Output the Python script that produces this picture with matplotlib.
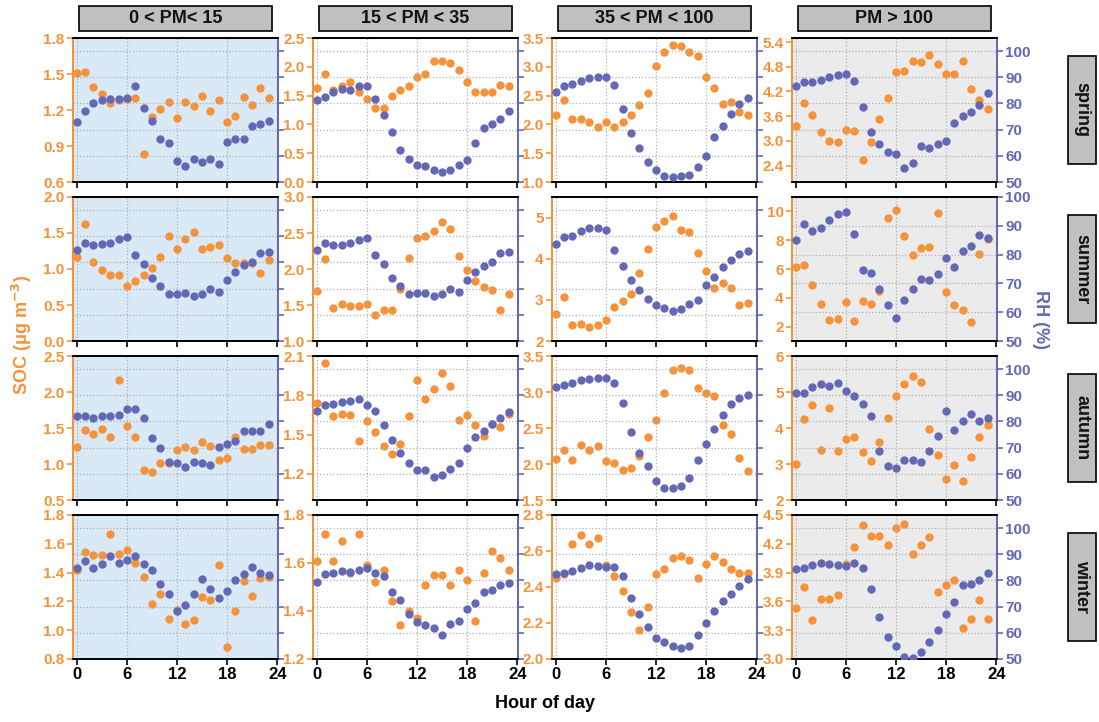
import matplotlib
matplotlib.use("Agg")
import matplotlib.pyplot as plt
from matplotlib.patches import Rectangle
import numpy as np

plt.rcParams['font.family'] = ['Liberation Sans', 'DejaVu Sans']
plt.rcParams['font.weight'] = 'bold'

hours = list(range(24))
pm_bins = ["0 < PM< 15", "15 < PM < 35", "35 < PM < 100", "PM > 100"]
seasons = ["spring", "summer", "autumn", "winter"]

soc_spring = [
    [1.51,1.52,1.39,1.33,1.26,1.28,1.29,1.30,0.83,1.14,1.21,1.27,1.13,1.27,1.23,1.32,1.19,1.28,1.10,1.15,1.31,1.24,1.38,1.30],
    [1.63,1.87,1.60,1.67,1.74,1.56,1.44,1.29,1.28,1.50,1.60,1.66,1.83,1.87,2.10,2.10,2.06,1.94,1.74,1.57,1.57,1.57,1.69,1.67],
    [2.17,2.43,2.09,2.10,2.04,1.96,2.05,1.95,2.05,2.16,2.33,2.55,3.01,3.26,3.37,3.36,3.26,3.18,2.83,2.63,2.36,2.39,2.22,2.17],
    [3.35,3.92,3.63,3.22,2.99,2.98,3.26,3.23,2.53,2.98,3.53,4.05,4.68,4.69,4.95,4.92,5.09,4.87,4.62,4.62,4.95,4.27,4.00,3.78],
]
rh_spring = [
    [73.0,77.3,80.2,81.2,81.8,81.6,82.0,86.7,78.3,73.4,66.4,65.0,58.1,56.3,58.8,57.7,58.6,56.9,65.2,66.4,66.5,71.3,72.1,73.4],
    [81.3,82.6,84.5,85.4,85.3,86.6,86.6,81.8,75.6,69.1,62.2,58.8,56.6,56.3,54.5,53.8,54.5,56.4,58.5,64.8,70.8,72.0,74.0,77.1],
    [84.3,86.5,87.4,88.4,89.8,90.2,90.0,87.1,77.8,68.9,63.0,57.8,54.7,52.4,51.8,52.3,52.7,55.7,59.8,67.3,71.3,75.8,79.8,82.2],
    [86.5,88.1,88.1,88.8,90.0,90.8,91.3,88.6,78.8,69.1,64.5,61.5,60.6,55.2,57.3,63.8,63.0,64.6,65.8,72.7,75.1,76.9,79.3,84.0],
]
soc_summer = [
    [1.17,1.62,1.10,0.99,0.91,0.92,0.76,0.83,0.92,1.01,1.16,1.46,1.28,1.41,1.52,1.28,1.31,1.33,1.15,1.09,1.08,1.08,0.95,1.13],
    [1.69,2.14,1.46,1.51,1.49,1.49,1.52,1.36,1.43,1.43,1.72,2.15,2.43,2.46,2.53,2.65,2.56,2.18,1.98,1.83,1.75,1.71,1.43,1.65],
    [2.65,3.08,2.38,2.42,2.35,2.40,2.50,2.82,2.98,3.15,3.66,4.23,4.77,4.91,5.04,4.70,4.65,4.14,3.70,3.29,3.40,3.29,2.87,2.92],
    [6.14,6.28,4.91,3.60,2.49,2.53,3.71,2.37,3.76,3.60,4.45,9.56,10.09,8.31,6.99,7.48,7.53,9.88,4.43,3.50,3.16,2.32,7.06,8.10],
]
rh_summer = [
    [84.9,87.3,86.8,86.9,87.5,88.8,89.6,82.7,79.3,74.0,71.1,68.1,68.1,68.2,67.0,67.8,69.7,68.9,73.3,76.5,78.9,80.2,83.7,84.0],
    [84.9,87.3,86.8,86.8,87.5,88.7,89.4,82.7,79.4,74.0,71.0,68.1,68.2,68.3,67.0,67.8,69.7,68.9,73.3,76.5,78.8,80.3,83.7,84.0],
    [86.9,89.6,90.2,92.0,93.0,93.3,92.5,84.9,78.8,73.3,69.5,66.2,63.7,62.5,61.5,62.2,64.0,65.8,71.4,74.3,78.1,80.9,83.3,84.5],
    [84.9,90.7,88.1,89.2,91.9,94.1,94.9,87.1,74.8,73.6,68.1,62.4,58.1,64.3,67.9,71.4,71.2,73.4,78.7,75.6,81.3,83.1,86.7,85.7],
]
soc_autumn = [
    [1.23,1.47,1.42,1.48,1.38,2.17,1.53,1.38,0.92,0.89,1.02,1.02,1.19,1.23,1.20,1.31,1.25,1.05,1.09,1.38,1.21,1.21,1.27,1.27],
    [1.74,2.05,1.64,1.66,1.65,1.45,1.60,1.52,1.41,1.35,1.43,1.64,1.92,1.77,1.85,1.97,1.87,1.61,1.65,1.57,1.49,1.58,1.56,1.66],
    [2.07,2.19,2.05,2.27,2.19,2.25,2.04,2.02,1.91,1.94,2.11,2.37,2.61,2.98,3.31,3.34,3.30,3.05,2.98,2.94,2.54,2.41,2.09,1.90],
    [2.99,4.24,4.64,3.40,4.55,3.35,3.70,3.76,3.33,3.08,3.62,4.27,4.89,5.23,5.45,5.28,3.97,3.25,2.58,2.97,2.53,3.20,3.76,4.09],
]
rh_autumn = [
    [81.9,81.9,81.3,82.0,82.2,82.4,84.9,84.6,81.3,73.7,70.0,64.6,64.1,62.7,64.5,64.2,63.5,70.1,71.3,72.6,76.4,76.4,76.4,79.0],
    [84.1,86.4,86.5,87.4,87.9,88.5,86.3,84.1,78.7,72.8,67.9,64.1,61.3,61.5,58.8,59.5,61.8,64.0,70.0,74.2,76.2,79.0,81.5,83.8],
    [93.1,94.0,94.5,95.9,96.3,96.5,96.7,94.6,87.2,76.0,67.9,62.8,57.4,54.5,54.5,55.3,58.5,65.4,71.3,77.2,82.6,86.5,89.1,90.1],
    [91.0,91.0,93.3,94.4,93.6,94.7,91.7,89.6,86.7,81.9,68.7,63.1,62.3,65.4,65.4,64.6,68.7,74.5,84.0,76.8,80.1,82.8,80.0,81.5],
]
soc_winter = [
    [1.42,1.54,1.52,1.52,1.67,1.53,1.56,1.47,1.37,1.18,1.25,1.08,1.14,1.04,1.07,1.23,1.21,1.45,0.88,1.13,1.34,1.24,1.36,1.37],
    [1.61,1.72,1.61,1.69,1.56,1.72,1.59,1.52,1.57,1.44,1.34,1.40,1.37,1.51,1.55,1.55,1.51,1.57,1.53,1.36,1.56,1.65,1.62,1.57],
    [2.45,2.47,2.64,2.69,2.64,2.67,2.52,2.46,2.38,2.26,2.16,2.29,2.47,2.50,2.56,2.57,2.55,2.45,2.53,2.57,2.54,2.50,2.48,2.48],
    [3.53,3.75,3.41,3.62,3.63,3.67,3.99,4.17,4.40,4.28,4.28,4.19,4.36,4.41,4.09,4.19,4.27,3.70,3.77,3.82,3.32,3.42,3.61,3.42],
]
rh_winter = [
    [84.9,87.6,84.7,86.2,89.5,86.5,87.8,89.2,86.4,84.1,78.8,74.9,68.2,70.7,74.7,80.5,76.9,73.2,76.0,80.1,82.3,85.1,82.8,82.1],
    [79.5,82.3,82.8,83.5,83.2,83.9,84.8,82.9,81.6,75.4,72.4,67.3,64.0,62.9,62.0,59.3,63.4,64.7,69.1,71.3,75.4,76.5,78.1,79.1],
    [82.4,82.9,83.8,84.7,85.8,85.7,85.3,85.1,81.8,73.3,67.3,62.1,58.2,56.6,54.8,54.1,55.0,59.2,63.8,68.4,72.1,74.7,77.9,80.6],
    [84.4,84.9,86.0,86.6,86.4,85.8,85.6,86.6,84.6,76.7,66.2,58.5,54.8,50.9,50.4,52.7,56.6,61.2,67.3,71.7,78.1,78.8,80.2,82.9],
]

soc_all = [soc_spring, soc_summer, soc_autumn, soc_winter]
rh_all = [rh_spring, rh_summer, rh_autumn, rh_winter]

# SOC axis limits and ticks per panel
soc_lims = [
    [(0.6, 1.8), (0.0, 2.5), (1.0, 3.5), (2.0, 5.5)],
    [(0.0, 2.0), (1.0, 3.0), (2.0, 5.5), (1.0, 11.0)],
    [(0.5, 2.5), (1.0, 2.1), (1.5, 3.5), (2.0, 6.0)],
    [(0.8, 1.8), (1.2, 1.8), (2.0, 2.8), (3.0, 4.5)],
]
soc_ticks = [
    [[0.6, 0.9, 1.2, 1.5, 1.8], [0.0, 0.5, 1.0, 1.5, 2.0, 2.5], [1.0, 1.5, 2.0, 2.5, 3.0, 3.5], [2.4, 3.0, 3.6, 4.2, 4.8, 5.4]],
    [[0.0, 0.5, 1.0, 1.5, 2.0], [1.0, 1.5, 2.0, 2.5, 3.0], [2, 3, 4, 5], [2, 4, 6, 8, 10]],
    [[0.5, 1.0, 1.5, 2.0, 2.5], [1.2, 1.5, 1.8, 2.1], [1.5, 2.0, 2.5, 3.0, 3.5], [2, 3, 4, 5, 6]],
    [[0.8, 1.0, 1.2, 1.4, 1.6, 1.8], [1.2, 1.4, 1.6, 1.8], [2.0, 2.2, 2.4, 2.6, 2.8], [3.0, 3.3, 3.6, 3.9, 4.2, 4.5]],
]
soc_fmt = [
    ["{:.1f}", "{:.1f}", "{:.1f}", "{:.1f}"],
    ["{:.1f}", "{:.1f}", "{:.0f}", "{:.0f}"],
    ["{:.1f}", "{:.1f}", "{:.1f}", "{:.0f}"],
    ["{:.1f}", "{:.1f}", "{:.1f}", "{:.1f}"],
]
rh_ticks = [50, 60, 70, 80, 90, 100]
xticks = [0, 6, 12, 18, 24]

ORANGE = "#F5923A"
BLUE = "#6268B4"
BG = ["#DAE9F6", "white", "white", "#EBEBEB"]

W, H = 1099, 722
fig = plt.figure(figsize=(W / 100, H / 100), dpi=100)

lefts = [73, 313, 552, 792]
tops = [38, 197, 356, 515]
pw, ph = 205, 144

for r in range(4):
    for c in range(4):
        ax = fig.add_axes([lefts[c] / W, 1 - (tops[r] + ph) / H, pw / W, ph / H])
        ax.set_facecolor(BG[c])
        ax2 = ax.twinx()
        ax.plot(hours, soc_all[r][c], 'o', color=ORANGE, ms=6, mec='none', zorder=3)
        ax2.plot(hours, rh_all[r][c], 'o', color=BLUE, ms=6, mec='none', zorder=3)
        ax.set_xlim(-0.45, 24.1)
        ax.set_xticks(xticks)
        ax.set_ylim(*soc_lims[r][c])
        ax.set_yticks(soc_ticks[r][c])
        ax.set_yticklabels([soc_fmt[r][c].format(v) for v in soc_ticks[r][c]])
        if r == 1 and c == 3:
            ax2.set_ylim(50, 100)
        else:
            ax2.set_ylim(50, 105)
        ax2.set_yticks(rh_ticks)
        ax.grid(axis='x', color='#b0b0b0', linestyle=':', linewidth=0.9)
        ax2.grid(axis='y', color='#b0b0b0', linestyle=':', linewidth=0.9)
        ax2.set_axisbelow(True)
        ax.tick_params(axis='y', colors=ORANGE, direction='out', length=4, width=1.2,
                       labelsize=11, pad=2)
        ax.tick_params(axis='x', colors='black', direction='out', length=4, width=1.2,
                       labelsize=12, pad=2)
        ax2.tick_params(axis='y', colors=BLUE, direction='out', length=4, width=1.2,
                        labelsize=11, pad=2, labelright=(c == 3))
        for lab in ax.get_yticklabels() + ax.get_xticklabels() + ax2.get_yticklabels():
            lab.set_fontweight('bold')
        if r != 3:
            ax.set_xticklabels([])
        for a in (ax, ax2):
            a.spines['left'].set_color(ORANGE)
            a.spines['right'].set_color(BLUE)
            a.spines['top'].set_color('black')
            a.spines['bottom'].set_color('black')
            for s in a.spines.values():
                s.set_linewidth(1.3)
        for lab in ax.get_yticklabels():
            lab.set_color(ORANGE)
        for lab in ax2.get_yticklabels():
            lab.set_color(BLUE)

# column headers
for c in range(4):
    x0 = lefts[c] + 6
    bw = pw - 12
    rect = Rectangle((x0 / W, 1 - 31 / H), bw / W, 25 / H, transform=fig.transFigure,
                     facecolor='#C0C0C0', edgecolor='black', linewidth=1.2)
    fig.patches.append(rect)
    fig.text((x0 + bw / 2) / W, 1 - 18.5 / H, pm_bins[c], ha='center', va='center',
             fontsize=13, fontweight='bold', color='#111111')

# row labels
for r in range(4):
    cy = tops[r] + ph / 2
    bh = 108
    rect = Rectangle((1068 / W, 1 - (cy + bh / 2) / H), 28 / W, bh / H, transform=fig.transFigure,
                     facecolor='#C0C0C0', edgecolor='black', linewidth=1.2)
    fig.patches.append(rect)
    fig.text(1082 / W, 1 - cy / H, seasons[r], ha='center', va='center', rotation=270,
             fontsize=13, fontweight='bold', color='#111111')

fig.text(22 / W, 1 - 335 / H, "SOC (μg m$^{\\mathbf{-3}}$)", rotation=90, ha='center', va='center',
         fontsize=13, fontweight='bold', color=ORANGE)
fig.text(1040 / W, 1 - 320 / H, "RH (%)", rotation=270, ha='center', va='center',
         fontsize=13, fontweight='bold', color=BLUE)
fig.text(545 / W, 1 - 703 / H, "Hour of day", ha='center', va='center',
         fontsize=13, fontweight='bold', color='black')

fig.savefig("out.png", dpi=100)
